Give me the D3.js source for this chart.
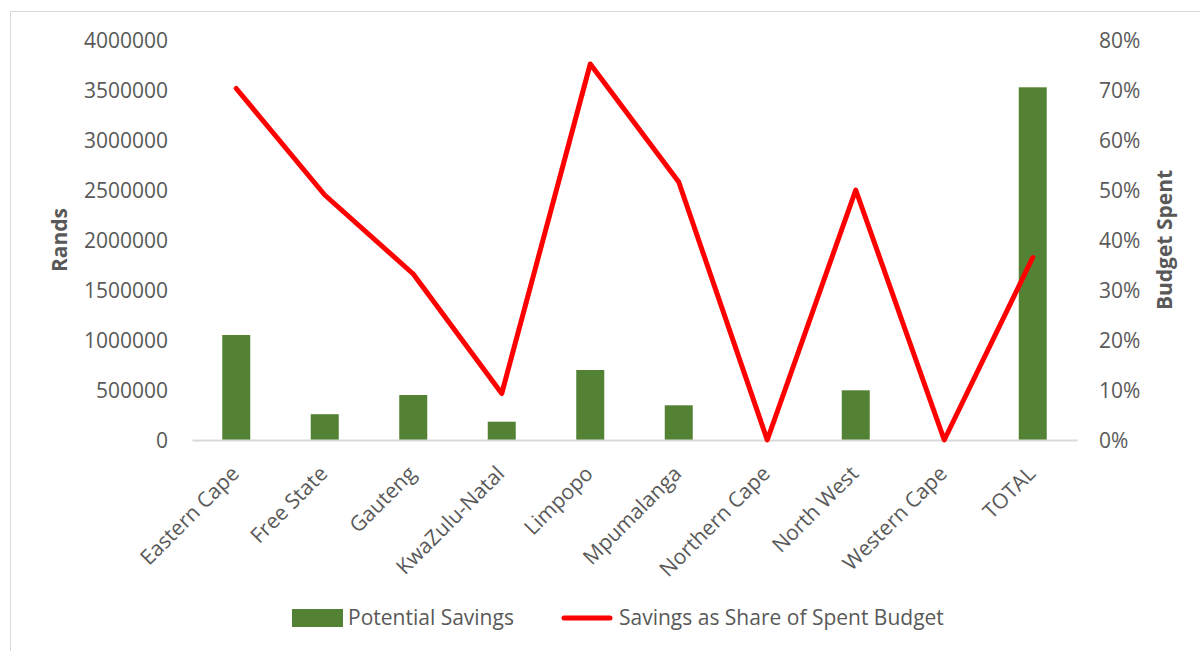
<!DOCTYPE html>
<html>
<head>
<meta charset="utf-8">
<script src="https://cdn.jsdelivr.net/npm/d3@7"></script>
<style>
  html, body { margin: 0; padding: 0; background: #fff; }
  svg { display: block; }
  text { font-family: "Open Sans", sans-serif; fill: #595959; }
</style>
</head>
<body>
<svg id="chart" width="1200" height="651"></svg>
<script>
const categories = ["Eastern Cape", "Free State", "Gauteng", "KwaZulu-Natal", "Limpopo", "Mpumalanga", "Northern Cape", "North West", "Western Cape", "TOTAL"];
const potentialSavings = [1050000, 258000, 450000, 183000, 700000, 347000, 0, 497000, 0, 3527000];
const savingsShare = [0.703, 0.49, 0.332, 0.093, 0.752, 0.516, 0, 0.50, 0, 0.365];
const leftTicks = [0, 500000, 1000000, 1500000, 2000000, 2500000, 3000000, 3500000, 4000000];
const rightTicks = [0, 0.1, 0.2, 0.3, 0.4, 0.5, 0.6, 0.7, 0.8];
const seriesNames = ["Potential Savings", "Savings as Share of Spent Budget"];
const axisTitles = { left: "Rands", right: "Budget Spent" };

const svg = d3.select("#chart");
const plot = { left: 192, right: 1077, top: 40, bottom: 440 };

// chart border (top and left visible)
svg.append("rect")
  .attr("x", 10.5).attr("y", 11.5)
  .attr("width", 1300).attr("height", 800)
  .attr("fill", "none").attr("stroke", "#d9d9d9").attr("stroke-width", 1);

const x = d3.scaleBand().domain(categories).range([plot.left, plot.right]).paddingInner(0).paddingOuter(0);
const yL = d3.scaleLinear().domain([0, 4000000]).range([plot.bottom, plot.top]);
const yR = d3.scaleLinear().domain([0, 0.8]).range([plot.bottom, plot.top]);

// left axis
const leftAxis = svg.append("g")
  .attr("transform", `translate(${plot.left - 24},0)`)
  .call(d3.axisLeft(yL).tickValues(leftTicks).tickFormat(d3.format("d")).tickSize(0).tickPadding(0));
leftAxis.select(".domain").remove();
leftAxis.selectAll("text").style("font-size", "21px").attr("fill", "#595959").attr("dy", "0.35em");

// right axis
const rightAxis = svg.append("g")
  .attr("transform", `translate(${plot.right + 22},0)`)
  .call(d3.axisRight(yR).tickValues(rightTicks).tickFormat(d3.format(".0%")).tickSize(0).tickPadding(0));
rightAxis.select(".domain").remove();
rightAxis.selectAll("text").style("font-size", "21px").attr("fill", "#595959").attr("dy", "0.35em");

// bars
const barW = 28;
svg.append("g").selectAll("rect")
  .data(categories)
  .join("rect")
  .attr("x", (d) => x(d) + x.bandwidth() / 2 - barW / 2)
  .attr("y", (d, i) => yL(potentialSavings[i]))
  .attr("width", barW)
  .attr("height", (d, i) => plot.bottom - yL(potentialSavings[i]))
  .attr("fill", "#548235");

// x axis line
const bottomAxis = svg.append("g")
  .attr("transform", `translate(0,${plot.bottom})`)
  .call(d3.axisBottom(x).tickSize(0).tickPadding(0));
bottomAxis.select(".domain").attr("stroke", "#d9d9d9").attr("stroke-width", 2);
bottomAxis.selectAll("text")
  .style("font-size", "21px")
  .attr("fill", "#595959")
  .attr("text-anchor", "end")
  .attr("y", 0).attr("dy", "0")
  .attr("transform", "translate(4,35) rotate(-45)");

// line
const line = d3.line()
  .x((d, i) => x(categories[i]) + x.bandwidth() / 2)
  .y((d) => yR(d));
svg.append("path")
  .datum(savingsShare)
  .attr("d", line)
  .attr("fill", "none")
  .attr("stroke", "#ff0000")
  .attr("stroke-width", 5)
  .attr("stroke-linejoin", "round")
  .attr("stroke-linecap", "round");

// axis titles
svg.append("text")
  .attr("transform", `translate(67,240) rotate(-90)`)
  .attr("text-anchor", "middle")
  .style("font-size", "21px").style("font-weight", "bold")
  .text(axisTitles.left);
svg.append("text")
  .attr("transform", `translate(1172,240) rotate(-90)`)
  .attr("text-anchor", "middle")
  .style("font-size", "21px").style("font-weight", "bold")
  .text(axisTitles.right);

// legend
const legend = svg.append("g");
legend.append("rect").attr("x", 292).attr("y", 609).attr("width", 51).attr("height", 18).attr("fill", "#548235");
legend.append("text").attr("x", 348).attr("y", 618).attr("dy", "0.35em").style("font-size", "21px").text(seriesNames[0]);
legend.append("line").attr("x1", 564).attr("x2", 610).attr("y1", 618).attr("y2", 618)
  .attr("stroke", "#ff0000").attr("stroke-width", 5).attr("stroke-linecap", "round");
legend.append("text").attr("x", 619).attr("y", 618).attr("dy", "0.35em").style("font-size", "21px").text(seriesNames[1]);
</script>
</body>
</html>
